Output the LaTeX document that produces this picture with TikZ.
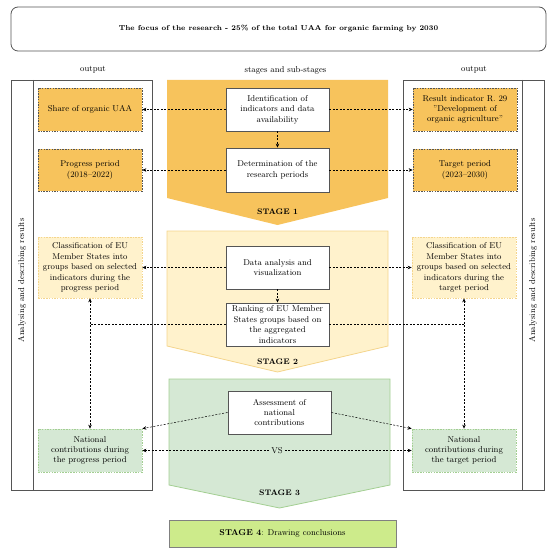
\documentclass[tikz,border=0pt]{standalone}
\usepackage{fontspec}
\usetikzlibrary{arrows.meta}
\definecolor{stageone}{HTML}{F7C35C}
\definecolor{stagetwo}{HTML}{FFF2CC}
\definecolor{stagetwoline}{HTML}{F4D58D}
\definecolor{stagethree}{HTML}{D5E8D4}
\definecolor{stagethreeline}{HTML}{A3CF92}
\definecolor{stagefour}{HTML}{CDEB8B}
\definecolor{frameline}{HTML}{555555}
\begin{document}
\begin{tikzpicture}[x=1pt, y=-1pt,
    boxfont/.style={font=\fontsize{8.5}{10.4}\selectfont},
    substage/.style={boxfont, draw=frameline, line width=0.9pt, fill=white,
        minimum width=103pt, text width=100pt, align=center, inner sep=0pt},
    outbox/.style={boxfont, dash pattern=on 1.5pt off 1.2pt, line width=0.7pt,
        minimum width=104pt, text width=102pt, align=center, inner sep=0pt},
    flow/.style={dash pattern=on 2pt off 1.5pt, line width=0.5pt,
        -{Stealth[length=4pt,width=3.5pt]}},
    twoway/.style={flow, {Stealth[length=4pt,width=3.5pt]}-{Stealth[length=4pt,width=3.5pt]}},
    stagelabel/.style={font=\fontsize{8}{10}\selectfont\bfseries},
  ]
    \useasboundingbox (0,0) rectangle (550,553);

    % Focus of the research
    \node[draw=frameline, line width=0.8pt, rounded corners=7pt, minimum width=535pt,
        minimum height=44pt, font=\fontsize{7.2}{9}\selectfont\bfseries] (focus) at (278.5,29)
        {The focus of the research - 25\% of the total UAA for organic farming by 2030};

    % Column headers
    \node[boxfont] (outputL) at (93,70) {output};
    \node[boxfont] (stages) at (285.5,70) {stages and sub-stages};
    \node[boxfont] (outputR) at (474,70) {output};

    % Output frames
    \draw[frameline, line width=0.8pt] (11,80) rectangle (152,490);
    \draw[frameline, line width=0.8pt] (33,80) -- (33,490);
    \draw[frameline, line width=0.8pt] (403,80) rectangle (544,490);
    \draw[frameline, line width=0.8pt] (522,80) -- (522,490);
    \node[boxfont, rotate=90] (analysingL) at (22,280.5) {Analysing and describing results};
    \node[boxfont, rotate=90] (analysingR) at (533,280.5) {Analysing and describing results};

    % Stage arrows
    \fill[stageone] (167,80) -- (388,80) -- (388,198) -- (277.5,225) -- (167,198) -- cycle;
    \filldraw[fill=stagetwo, draw=stagetwoline, line width=0.8pt]
        (167,231) -- (388,231) -- (388,346) -- (277.5,372) -- (167,346) -- cycle;
    \filldraw[fill=stagethree, draw=stagethreeline, line width=0.8pt]
        (169,379) -- (390,379) -- (390,485) -- (279.5,508) -- (169,485) -- cycle;
    \node[stagelabel] (stageone) at (277.5,212) {STAGE 1};
    \node[stagelabel] (stagetwo) at (277.5,362) {STAGE 2};
    \node[stagelabel] (stagethree) at (279.5,493) {STAGE 3};

    % Stage 4
    \node[boxfont, draw=gray, line width=0.8pt, fill=stagefour, minimum width=227pt,
        minimum height=27pt] (conclusions) at (282.5,533.5) {\textbf{STAGE 4}: Drawing conclusions};

    % Sub-stages
    \node[substage, minimum height=43pt] (ident) at (277.5,109.5)
        {Identification of\\ indicators and data\\ availability};
    \node[substage, minimum height=44pt] (periods) at (277.5,170)
        {Determination of the\\ research periods};
    \node[substage, minimum height=43pt] (analysis) at (277.5,267.5)
        {Data analysis and\\ visualization};
    \node[substage, minimum height=43pt] (ranking) at (277.5,324.5)
        {Ranking of EU Member\\ States groups based on\\ the aggregated\\ indicators};
    \node[substage, minimum height=43pt] (assess) at (279.5,412.5)
        {Assessment of\\ national\\ contributions};

    % Outputs, left
    \node[outbox, fill=stageone, draw=frameline, minimum height=43pt] (shareL) at (90,109.5)
        {Share of organic UAA};
    \node[outbox, fill=stageone, draw=frameline, minimum height=42pt] (progressL) at (90,170)
        {Progress period\\ (2018–2022)};
    \node[outbox, fill=stagetwo, draw=stagetwoline, minimum height=61pt] (classL) at (90,267.5)
        {Classification of EU\\ Member States into\\ groups based on selected\\ indicators during the\\ progress period};
    \node[outbox, fill=stagethree, draw=stagethreeline, minimum height=43pt] (natL) at (90,450.5)
        {National\\ contributions during\\ the progress period};

    % Outputs, right
    \node[outbox, fill=stageone, draw=frameline, minimum height=43pt] (resultR) at (465,109.5)
        {Result indicator R. 29\\ "Development of\\ organic agriculture"};
    \node[outbox, fill=stageone, draw=frameline, minimum height=42pt] (targetR) at (465,170)
        {Target period\\ (2023–2030)};
    \node[outbox, fill=stagetwo, draw=stagetwoline, minimum height=61pt] (classR) at (464,267.5)
        {Classification of EU\\ Member States into\\ groups based on selected\\ indicators during the\\ target period};
    \node[outbox, fill=stagethree, draw=stagethreeline, minimum height=43pt] (natR) at (464,450.5)
        {National\\ contributions during\\ the target period};

    % Connectors
    \draw[flow] (ident) -- (shareL);
    \draw[flow] (ident) -- (resultR);
    \draw[flow] (ident) -- (periods);
    \draw[flow] (periods) -- (progressL);
    \draw[flow] (periods) -- (targetR);
    \draw[flow] (analysis) -- (classL);
    \draw[flow] (analysis) -- (classR);
    \draw[flow] (analysis) -- (ranking);
    \coordinate (joinL) at (classL.south |- ranking.west);
    \coordinate (joinR) at (classR.south |- ranking.east);
    \draw[flow, -] (ranking.west) -- (joinL);
    \draw[flow, -] (ranking.east) -- (joinR);
    \draw[twoway] (classL) -- (natL);
    \draw[twoway] (classR) -- (natR);
    \draw[flow] (assess.west) -- (natL.north east);
    \draw[flow] (assess.east) -- (natR.north west);
    \draw[twoway] (natL) -- node[boxfont, fill=stagethree, inner sep=1.5pt] (vs) {VS} (natR);
\end{tikzpicture}
\end{document}
